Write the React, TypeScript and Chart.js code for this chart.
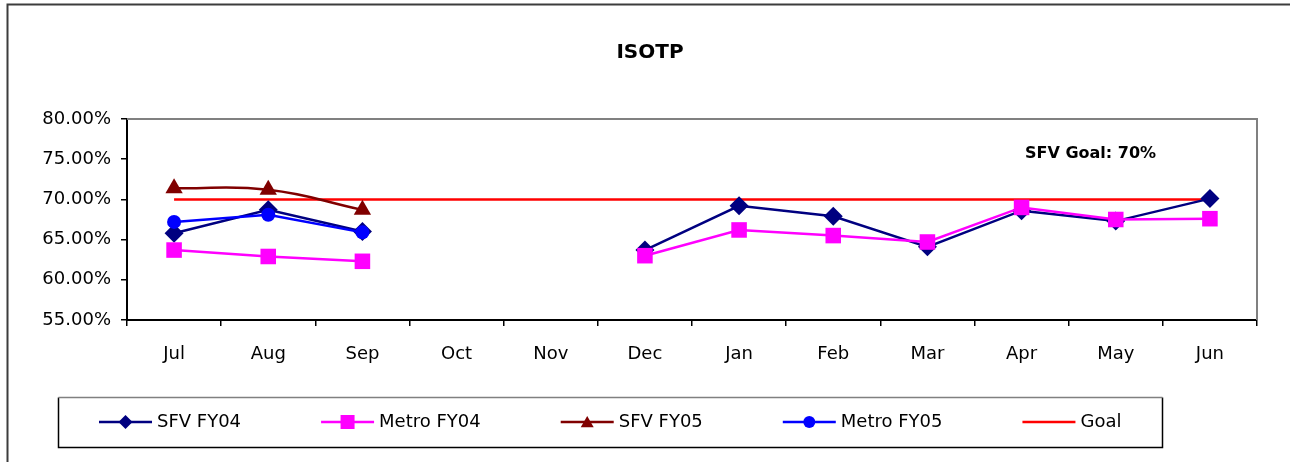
import React, { useEffect, useRef } from "react";
import { Chart, registerables } from "chart.js";

Chart.register(...registerables);

const chartTitle = "ISOTP";
const goalNote = "SFV Goal: 70%";
const months = ["Jul", "Aug", "Sep", "Oct", "Nov", "Dec", "Jan", "Feb", "Mar", "Apr", "May", "Jun"];
const sfvFY04 = [65.8, 68.7, 66.0, null, null, 63.7, 69.2, 67.9, 64.1, 68.6, 67.3, 70.1];
const metroFY04 = [63.7, 62.9, 62.3, null, null, 63.0, 66.2, 65.5, 64.7, 69.0, 67.5, 67.6];
const sfvFY05 = [71.4, 71.2, 68.7, null, null, null, null, null, null, null, null, null];
const metroFY05 = [67.2, 68.1, 65.9, null, null, null, null, null, null, null, null, null];
const goal = [70, 70, 70, 70, 70, 70, 70, 70, 70, 70, 70, 70];
const yMin = 55;
const yMax = 80;
const yStep = 5;

const FONT = "'DejaVu Sans', sans-serif";

function drawMarker(ctx: CanvasRenderingContext2D, style: string, x: number, y: number, color: string) {
  if (!style) return;
  ctx.save();
  ctx.fillStyle = color;
  ctx.beginPath();
  if (style === "rectRot") {
    const r = 7;
    ctx.moveTo(x, y - r);
    ctx.lineTo(x + r, y);
    ctx.lineTo(x, y + r);
    ctx.lineTo(x - r, y);
    ctx.closePath();
  } else if (style === "rect") {
    const h = 7;
    ctx.rect(x - h, y - h, 2 * h, 2 * h);
  } else if (style === "triangle") {
    const r = 7.5;
    for (let i = 0; i < 3; i++) {
      const a = (i * 2 * Math.PI) / 3;
      const px = x + Math.sin(a) * r;
      const py = y + 1.5 - Math.cos(a) * r;
      if (i === 0) ctx.moveTo(px, py);
      else ctx.lineTo(px, py);
    }
    ctx.closePath();
  } else {
    ctx.arc(x, y, 6, 0, Math.PI * 2);
  }
  ctx.fill();
  ctx.restore();
}

const decorPlugin = {
  id: "decor",
  beforeDraw(chart: any) {
    const ctx = chart.ctx as CanvasRenderingContext2D;
    ctx.save();
    ctx.fillStyle = "#ffffff";
    ctx.fillRect(0, 0, chart.width, chart.height);
    // outer frame
    ctx.strokeStyle = "#3c3c3c";
    ctx.lineWidth = 2;
    ctx.beginPath();
    ctx.moveTo(7.5, chart.height + 5);
    ctx.lineTo(7.5, 4.5);
    ctx.lineTo(chart.width + 5, 4.5);
    ctx.stroke();
    // title
    ctx.fillStyle = "#000";
    ctx.font = `bold 20px ${FONT}`;
    ctx.textAlign = "center";
    ctx.textBaseline = "middle";
    ctx.fillText(chartTitle, 650, 53);
    ctx.restore();
  },
  beforeDatasetsDraw(chart: any) {
    const ctx = chart.ctx as CanvasRenderingContext2D;
    const a = chart.chartArea;
    ctx.save();
    ctx.strokeStyle = "#808080";
    ctx.lineWidth = 2;
    ctx.beginPath();
    ctx.moveTo(a.left, a.top);
    ctx.lineTo(a.right, a.top);
    ctx.lineTo(a.right, a.bottom);
    ctx.stroke();
    ctx.restore();
  },
  afterDraw(chart: any) {
    const ctx = chart.ctx as CanvasRenderingContext2D;
    ctx.save();
    // annotation
    ctx.fillStyle = "#000";
    ctx.font = `bold 16px ${FONT}`;
    ctx.textAlign = "left";
    ctx.textBaseline = "middle";
    ctx.fillText(goalNote, 1025, 154);

    // legend box
    const bx0 = 58.5, bx1 = 1162.5, by0 = 397.5, by1 = 447.5;
    ctx.lineWidth = 1.5;
    ctx.strokeStyle = "#000";
    ctx.beginPath();
    ctx.moveTo(bx0, by0);
    ctx.lineTo(bx0, by1);
    ctx.lineTo(bx1, by1);
    ctx.lineTo(bx1, by0);
    ctx.stroke();
    ctx.strokeStyle = "#808080";
    ctx.beginPath();
    ctx.moveTo(bx0, by0);
    ctx.lineTo(bx1, by0);
    ctx.stroke();

    // legend items
    ctx.font = `18px ${FONT}`;
    const ly = 422;
    let x = 99;
    const lineLen = 53;
    chart.data.datasets.forEach((ds: any) => {
      ctx.strokeStyle = ds.borderColor;
      ctx.lineWidth = 2.5;
      ctx.beginPath();
      ctx.moveTo(x, ly);
      ctx.lineTo(x + lineLen, ly);
      ctx.stroke();
      if (ds.pointRadius > 0) drawMarker(ctx, ds.pointStyle, x + lineLen / 2, ly, ds.pointBackgroundColor);
      ctx.fillStyle = "#000";
      ctx.fillText(ds.label, x + lineLen + 5, ly);
      const w = ctx.measureText(ds.label).width;
      x += lineLen + 5 + w + 80;
    });
    ctx.restore();
  },
};

export default function App() {
  const ref = useRef<HTMLCanvasElement | null>(null);

  useEffect(() => {
    if (!ref.current) return;
    const chart = new Chart(ref.current, {
      type: "line",
      data: {
        labels: months,
        datasets: [
          {
            label: "SFV FY04",
            data: sfvFY04,
            borderColor: "#000080",
            backgroundColor: "#000080",
            pointBackgroundColor: "#000080",
            pointBorderWidth: 0,
            pointStyle: "rectRot",
            pointRadius: 9.5,
            borderWidth: 2.5,
            tension: 0,
            order: 4,
          },
          {
            label: "Metro FY04",
            data: metroFY04,
            borderColor: "#FF00FF",
            backgroundColor: "#FF00FF",
            pointBackgroundColor: "#FF00FF",
            pointBorderWidth: 0,
            pointStyle: "rect",
            pointRadius: 11,
            borderWidth: 2.5,
            tension: 0,
            order: 3,
          },
          {
            label: "SFV FY05",
            data: sfvFY05,
            borderColor: "#800000",
            backgroundColor: "#800000",
            pointBackgroundColor: "#800000",
            pointBorderWidth: 0,
            pointStyle: "triangle",
            pointRadius: 10,
            borderWidth: 2.5,
            tension: 0.45,
            order: 2,
          },
          {
            label: "Metro FY05",
            data: metroFY05,
            borderColor: "#0000FF",
            backgroundColor: "#0000FF",
            pointBackgroundColor: "#0000FF",
            pointBorderWidth: 0,
            pointStyle: "circle",
            pointRadius: 7,
            borderWidth: 2.5,
            tension: 0,
            order: 1,
          },
          {
            label: "Goal",
            data: goal,
            borderColor: "#FF0000",
            backgroundColor: "#FF0000",
            pointBackgroundColor: "#FF0000",
            pointStyle: false as any,
            pointRadius: 0,
            borderWidth: 2.5,
            tension: 0,
            order: 5,
          },
        ],
      },
      options: {
        animation: false,
        responsive: false,
        maintainAspectRatio: false,
        layout: { padding: { top: 119, left: 30, right: 33, bottom: 92 } },
        plugins: {
          legend: { display: false },
          title: { display: false },
          tooltip: { enabled: false },
        },
        scales: {
          x: {
            offset: true,
            grid: {
              offset: true,
              drawOnChartArea: false,
              drawTicks: true,
              tickLength: 6,
              color: "#000",
              lineWidth: 1.5,
            },
            border: { display: true, color: "#000", width: 2 },
            ticks: {
              color: "#000",
              font: { family: FONT, size: 18 },
              padding: 18,
              autoSkip: false,
              maxRotation: 0,
            },
            afterFit: (s: any) => {
              s.height = 50;
            },
          },
          y: {
            min: yMin,
            max: yMax,
            grid: {
              drawOnChartArea: false,
              drawTicks: true,
              tickLength: 6,
              color: "#000",
              lineWidth: 1.5,
            },
            border: { display: true, color: "#000", width: 2 },
            ticks: {
              stepSize: yStep,
              color: "#000",
              font: { family: FONT, size: 18 },
              padding: 10,
              callback: (v: any) => Number(v).toFixed(2) + "%",
            },
            afterFit: (s: any) => {
              s.width = 97;
            },
          },
        },
      },
      plugins: [decorPlugin],
    });
    return () => chart.destroy();
  }, []);

  return (
    <div style={{ position: "fixed", left: 0, top: 0, width: 1290, height: 462, background: "#fff" }}>
      <canvas ref={ref} width={1290} height={462} style={{ width: 1290, height: 462, display: "block" }} />
    </div>
  );
}
